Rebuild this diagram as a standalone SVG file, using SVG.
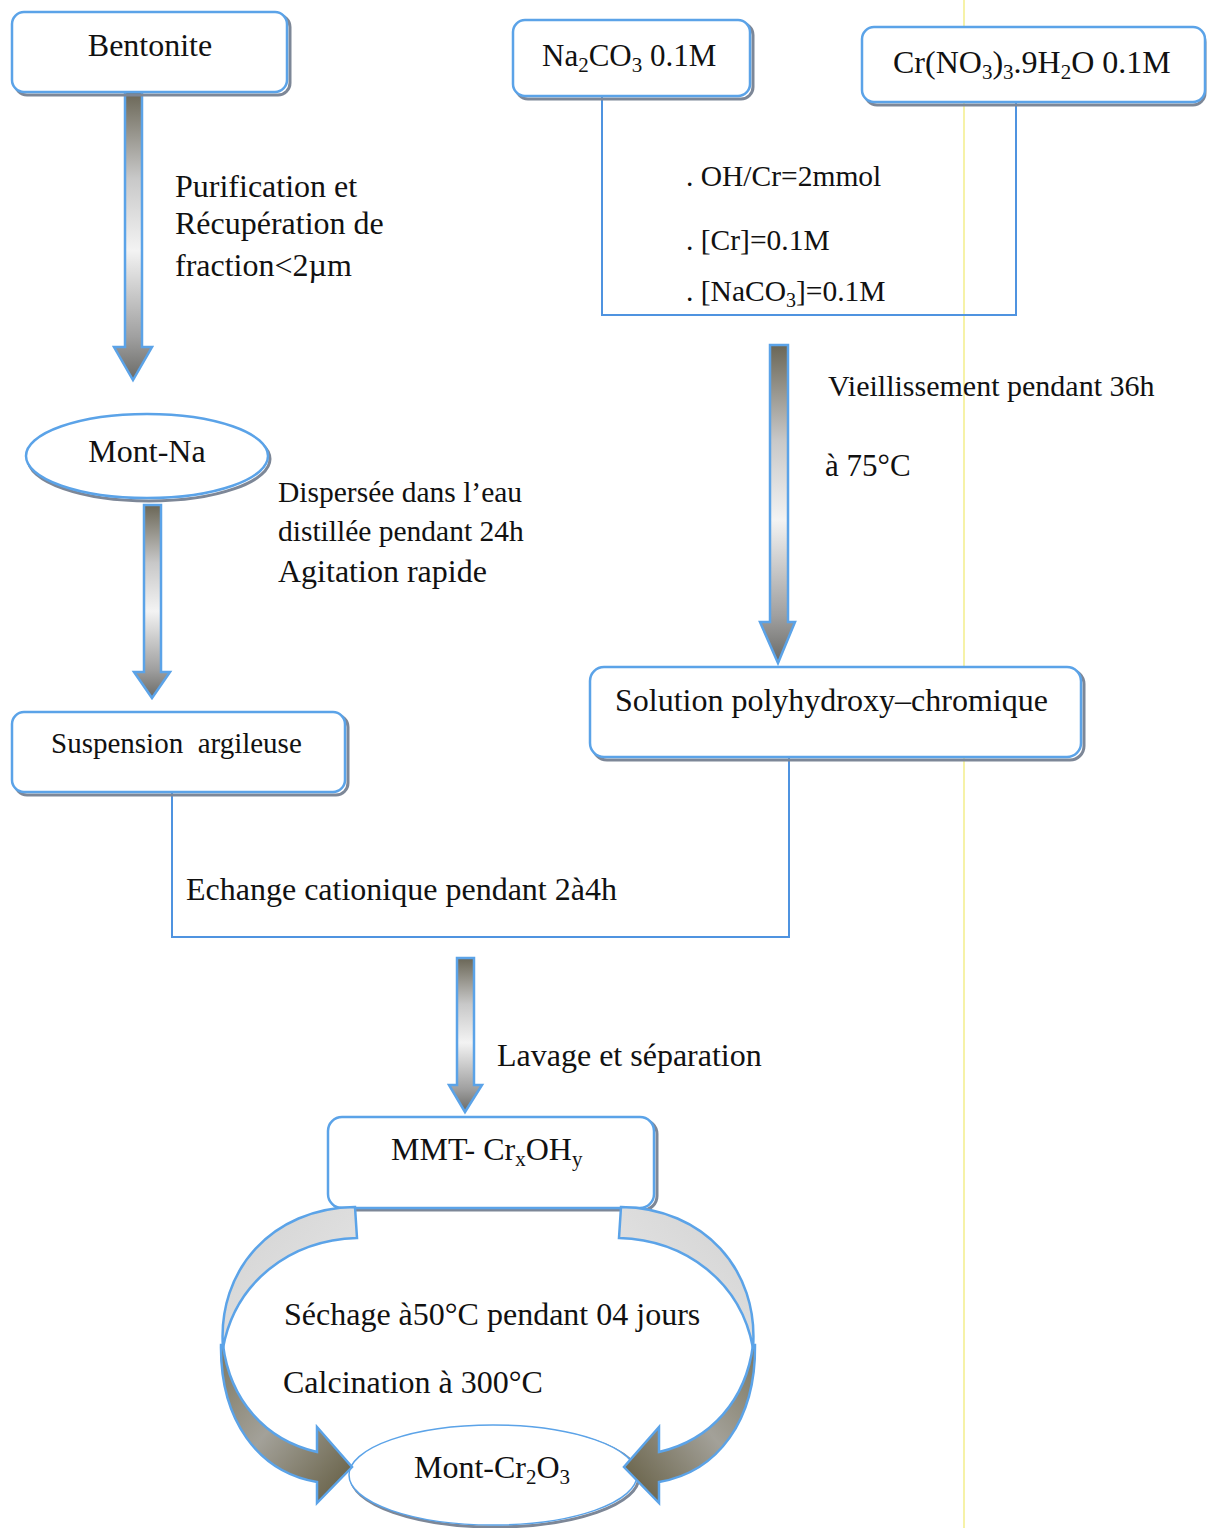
<svg xmlns="http://www.w3.org/2000/svg" width="1207" height="1528" viewBox="0 0 1207 1528" font-size="32">
<style>
text{font-family:"Liberation Serif","Times New Roman",serif;fill:#111}
.box{fill:#fff;stroke:#5ba3e8;stroke-width:2.5}
.shadow{fill:none;stroke:#7d8797;stroke-width:3}
.line{fill:none;stroke:#4f93e0;stroke-width:2}
.arrow{stroke:#5ba3e8;stroke-width:2.5;stroke-linejoin:miter}
</style>
<defs>
<linearGradient id="shaft" x1="0" y1="0" x2="0" y2="1">
<stop offset="0" stop-color="#6a6656"/>
<stop offset="0.3" stop-color="#c8c8c8"/>
<stop offset="0.55" stop-color="#f3f3f3"/>
<stop offset="0.85" stop-color="#a0a0a0"/>
<stop offset="1" stop-color="#6a6a66"/>
</linearGradient>
<linearGradient id="light" x1="0" y1="0" x2="1" y2="1">
<stop offset="0" stop-color="#d2d2d2"/>
<stop offset="1" stop-color="#e8e8e8"/>
</linearGradient>
<linearGradient id="dark" x1="0" y1="0" x2="1" y2="1">
<stop offset="0" stop-color="#7d7862"/>
<stop offset="0.45" stop-color="#a3a199"/>
<stop offset="1" stop-color="#615a3e"/>
</linearGradient>
</defs>

<line x1="964" y1="0" x2="964" y2="1528" stroke="#f6f2a8" stroke-width="2"/>

<g id="connectors">
<path class="arrow" fill="url(#shaft)" d="M125 92 H142 V347 H152 L133 380 L114 347 H125 Z"/>
<path class="arrow" fill="url(#shaft)" d="M770 345 H788 V622 H795 L778 663 L760 622 H770 Z"/>
<path class="arrow" fill="url(#shaft)" d="M144 505 H161 V672 H170 L152 698 L134 672 H144 Z"/>
<path class="arrow" fill="url(#shaft)" d="M457 958 H474 V1085 H482 L465 1112 L449 1085 H457 Z"/>
<path class="line" d="M602 97 V315 H1016 V102"/>
<path class="line" d="M172 792 V937 H789 V758"/>
</g>

<g id="bentonite">
<rect class="shadow" x="15" y="15" width="275" height="80" rx="12"/>
<rect class="box" x="12" y="12" width="275" height="80" rx="12"/>
<text x="150" y="56" text-anchor="middle">Bentonite</text>
</g>

<g id="label-purification">
<text x="175" y="197">Purification et</text>
<text x="175" y="234">Récupération de</text>
<text x="175" y="276">fraction&lt;2µm</text>
</g>

<g id="na2co3">
<rect class="shadow" x="516" y="23" width="237" height="76" rx="12"/>
<rect class="box" x="513" y="20" width="237" height="76" rx="12"/>
<text x="542" y="66" font-size="31">Na<tspan font-size="21" dy="6">2</tspan><tspan dy="-6">CO</tspan><tspan font-size="21" dy="6">3</tspan><tspan dy="-6"> 0.1M</tspan></text>
</g>

<g id="crno3">
<rect class="shadow" x="865" y="30" width="340" height="75" rx="12"/>
<rect class="box" x="862" y="27" width="343" height="75" rx="12"/>
<text x="893" y="73">Cr(NO<tspan font-size="21" dy="6">3</tspan><tspan dy="-6">)</tspan><tspan font-size="21" dy="6">3</tspan><tspan dy="-6">.9H</tspan><tspan font-size="21" dy="6">2</tspan><tspan dy="-6">O 0.1M</tspan></text>
</g>

<g id="label-conditions">
<text x="686" y="186" font-size="29.5">. OH/Cr=2mmol</text>
<text x="686" y="250" font-size="29.5">. [Cr]=0.1M</text>
<text x="686" y="301" font-size="29.5">. [NaCO<tspan font-size="20" dy="6">3</tspan><tspan dy="-6">]=0.1M</tspan></text>
</g>

<g id="label-vieillissement">
<text x="828" y="396" font-size="30">Vieillissement pendant 36h</text>
<text x="825" y="476" font-size="31">à 75°C</text>
</g>

<g id="mont-na">
<ellipse class="shadow" cx="149" cy="459" rx="121" ry="42"/>
<ellipse class="box" cx="147" cy="456" rx="121" ry="42"/>
<text x="147" y="462" text-anchor="middle">Mont-Na</text>
</g>

<g id="label-dispersee">
<text x="278" y="502" font-size="29.5">Dispersée dans l’eau</text>
<text x="278" y="541" font-size="29.5">distillée pendant 24h</text>
<text x="278" y="582">Agitation rapide</text>
</g>

<g id="suspension">
<rect class="shadow" x="15" y="715" width="333" height="80" rx="12"/>
<rect class="box" x="12" y="712" width="333" height="80" rx="12"/>
<text x="51" y="753" font-size="29" xml:space="preserve">Suspension  argileuse</text>
</g>

<g id="solution">
<rect class="shadow" x="593" y="670" width="491" height="90" rx="14"/>
<rect class="box" x="590" y="667" width="491" height="90" rx="14"/>
<text x="615" y="711">Solution polyhydroxy–chromique</text>
</g>

<g id="label-echange">
<text x="186" y="900">Echange cationique pendant 2à4h</text>
</g>

<g id="label-lavage">
<text x="497" y="1066">Lavage et séparation</text>
</g>

<g id="mmt">
<rect class="shadow" x="331" y="1120" width="326" height="90" rx="14"/>
<rect class="box" x="328" y="1117" width="326" height="91" rx="14"/>
<text x="391" y="1160">MMT- Cr<tspan font-size="21" dy="6">x</tspan><tspan dy="-6">OH</tspan><tspan font-size="21" dy="6">y</tspan></text>
</g>

<g id="mont-cr2o3">
<ellipse class="shadow" cx="495" cy="1477" rx="144" ry="50"/>
<ellipse cx="493" cy="1475" rx="144" ry="50" fill="#fff" stroke="#5ba3e8" stroke-width="1.5"/>
<text x="414" y="1478">Mont-Cr<tspan font-size="21" dy="6">2</tspan><tspan dy="-6">O</tspan><tspan font-size="21" dy="6">3</tspan></text>
</g>

<g id="cycle-arrows">
<g id="arrow-left">
<path class="arrow" fill="url(#light)" d="M355 1207 L357 1238 C290 1240 235 1282 223 1348 C217 1270 272 1208 355 1207 Z"/>
<path class="arrow" fill="url(#dark)" d="M223 1345 C230 1400 265 1440 317 1452 L317 1427 L352 1467 L317 1503 L317 1482 C258 1472 220 1420 221 1345 Z"/>
</g>
<g id="arrow-right" transform="translate(976,0) scale(-1,1)">
<path class="arrow" fill="url(#light)" d="M355 1207 L357 1238 C290 1240 235 1282 223 1348 C217 1270 272 1208 355 1207 Z"/>
<path class="arrow" fill="url(#dark)" d="M223 1345 C230 1400 265 1440 317 1452 L317 1427 L352 1467 L317 1503 L317 1482 C258 1472 220 1420 221 1345 Z"/>
</g>
</g>

<g id="label-cycle">
<text x="284" y="1325">Séchage à50°C pendant 04 jours</text>
<text x="283" y="1393">Calcination à 300°C</text>
</g>
</svg>
